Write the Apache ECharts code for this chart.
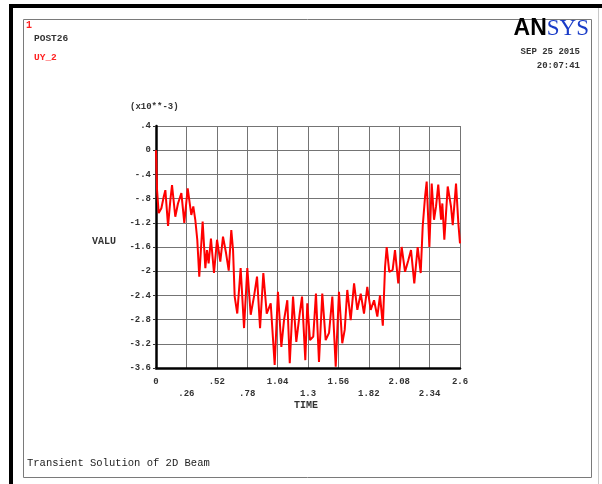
<!DOCTYPE html>
<html>
<head>
<meta charset="utf-8">
<script src="https://cdn.jsdelivr.net/npm/echarts@6/dist/echarts.min.js"></script>
<style>
  html, body { margin: 0; padding: 0; background: #ffffff; }
  #chart { width: 602px; height: 484px; }
</style>
</head>
<body>
<div id="chart"></div>
<script>
// POST26 time history of UY_2 (units of 1e-3)
const times = [
  0.000, 0.009, 0.023, 0.046, 0.066, 0.080, 0.103, 0.123, 0.137, 0.165,
  0.188, 0.217, 0.242, 0.271, 0.302, 0.319, 0.336, 0.353, 0.370, 0.399,
  0.422, 0.436, 0.450, 0.470, 0.496, 0.522, 0.550, 0.573, 0.599, 0.622,
  0.644, 0.659, 0.673, 0.695, 0.724, 0.753, 0.781, 0.810, 0.838, 0.864,
  0.890, 0.918, 0.947, 0.981, 1.015, 1.043, 1.072, 1.095, 1.123, 1.144,
  1.172, 1.200, 1.229, 1.249, 1.277, 1.294, 1.317, 1.345, 1.368, 1.394,
  1.422, 1.451, 1.480, 1.508, 1.537, 1.565, 1.593, 1.614, 1.636, 1.665,
  1.694, 1.722, 1.751, 1.779, 1.807, 1.836, 1.865, 1.893, 1.916, 1.940,
  1.959, 1.973, 1.995, 2.024, 2.044, 2.072, 2.101, 2.130, 2.158, 2.181,
  2.209, 2.238, 2.264, 2.281, 2.301, 2.315, 2.338, 2.358, 2.378, 2.395,
  2.414, 2.438, 2.449, 2.466, 2.495, 2.523, 2.538, 2.566, 2.586, 2.600
];
const uy2 = [
  0.00, -0.66, -1.04, -0.96, -0.77, -0.66, -1.25, -0.82, -0.575, -1.10,
  -0.88, -0.71, -1.20, -0.63, -1.07, -0.93, -1.15, -1.48, -2.09, -1.18,
  -1.95, -1.65, -1.87, -1.46, -2.03, -1.48, -1.84, -1.43, -1.70, -1.99,
  -1.32, -1.65, -2.42, -2.70, -1.95, -2.94, -1.95, -2.72, -2.42, -2.09,
  -2.94, -2.03, -2.70, -2.53, -3.55, -2.34, -3.25, -2.81, -2.48, -3.52,
  -2.42, -3.17, -2.70, -2.42, -3.47, -2.53, -3.14, -3.08, -2.37, -3.50,
  -2.37, -3.14, -3.02, -2.42, -3.58, -2.34, -3.19, -2.97, -2.31, -2.81,
  -2.20, -2.64, -2.37, -2.70, -2.26, -2.64, -2.48, -2.75, -2.40, -2.90,
  -1.93, -1.60, -2.01, -1.98, -1.65, -2.20, -1.60, -2.01, -1.82, -1.65,
  -2.20, -1.60, -2.03, -1.26, -0.77, -0.52, -1.60, -0.55, -1.15, -0.93,
  -0.57, -1.15, -0.88, -1.48, -0.60, -0.93, -1.24, -0.55, -1.21, -1.54
];
const xTickLabels = ['0', '.26', '.52', '.78', '1.04', '1.3', '1.56', '1.82', '2.08', '2.34', '2.6'];
const yTickLabels = ['.4', '0', '-.4', '-.8', '-1.2', '-1.6', '-2', '-2.4', '-2.8', '-3.2', '-3.6'];

const X_STEP = 0.26, Y_STEP = 0.4, Y_TOP = 0.4;
const mono = '"Liberation Mono", "Courier New", monospace';

const points = times.map((t, i) => [t, uy2[i]]);

const chart = echarts.init(document.getElementById('chart'), null, { renderer: 'canvas' });

const textStyle = (txt, extra) => Object.assign({
  text: txt, font: 'bold 9px ' + mono, fill: '#333333'
}, extra || {});

chart.setOption({
  backgroundColor: '#ffffff',
  animation: false,
  grid: { left: 156, right: 142, top: 126, bottom: 116, containLabel: false },
  xAxis: {
    type: 'value', min: 0, max: 2.6, interval: X_STEP,
    axisLine: { show: true, onZero: false, lineStyle: { color: '#000000', width: 2.5 } },
    axisTick: { show: false },
    splitLine: { show: true, lineStyle: { color: '#747474', width: 1 } },
    axisLabel: {
      margin: 8, color: '#333333', fontFamily: mono, fontWeight: 'bold', fontSize: 9, lineHeight: 12,
      formatter: v => {
        const k = Math.round(v / X_STEP);
        const s = xTickLabels[k] || '';
        return k % 2 ? '\n' + s : s;
      }
    }
  },
  yAxis: {
    type: 'value', min: -3.6, max: 0.4, interval: Y_STEP,
    axisLine: { show: true, onZero: false, lineStyle: { color: '#000000', width: 2.5 } },
    axisTick: { show: true, length: 3, lineStyle: { color: '#333333', width: 1 } },
    splitLine: { show: true, lineStyle: { color: '#747474', width: 1 } },
    axisLabel: {
      margin: 5, color: '#333333', fontFamily: mono, fontWeight: 'bold', fontSize: 9,
      formatter: v => yTickLabels[Math.round((Y_TOP - v) / Y_STEP)] || ''
    }
  },
  series: [{
    type: 'line', data: points, showSymbol: false, smooth: false,
    lineStyle: { color: '#ff0000', width: 2 }, z: 5
  }],
  graphic: [
    // outer window frame
    { type: 'rect', shape: { x: 10, y: 4, width: 592, height: 4 }, style: { fill: '#000000' }, silent: true },
    { type: 'rect', shape: { x: 9, y: 4, width: 4, height: 480 }, style: { fill: '#000000' }, silent: true },
    { type: 'line', shape: { x1: 598.5, y1: 8, x2: 598.5, y2: 484 }, style: { stroke: '#c8c8c8', lineWidth: 1 }, silent: true },
    { type: 'rect', shape: { x: 23.5, y: 19.5, width: 568, height: 458 }, style: { fill: null, stroke: '#7a7a7a', lineWidth: 1 }, silent: true },
    // header texts
    { type: 'text', left: 26, top: 20, style: textStyle('1', { fill: '#ff2020', font: 'bold 10px ' + mono }) },
    { type: 'text', left: 34, top: 34, style: textStyle('POST26', { font: 'bold 9.5px ' + mono }) },
    { type: 'text', left: 34, top: 53, style: textStyle('UY_2', { fill: '#ff2020', font: 'bold 9.5px ' + mono }) },
    {
      type: 'text', right: 13, top: 17,
      style: {
        text: '{a|AN}{b|SYS}',
        rich: {
          a: { font: 'bold 23px "Liberation Sans", Arial, sans-serif', fill: '#000000' },
          b: { font: '23px "Liberation Serif", "Times New Roman", serif', fill: '#1a3cc8' }
        }
      }
    },
    { type: 'text', right: 22, top: 47, style: textStyle('SEP 25 2015', { align: 'right' }) },
    { type: 'text', right: 22, top: 61, style: textStyle('20:07:41', { align: 'right' }) },
    // axis titles
    { type: 'text', left: 130, top: 102, style: textStyle('(x10**-3)') },
    { type: 'text', left: 92, top: 236, style: textStyle('VALU', { font: 'bold 10px ' + mono }) },
    { type: 'text', left: 294, top: 400, style: textStyle('TIME', { font: 'bold 10px ' + mono }) },
    // footer
    { type: 'text', left: 27, top: 458, style: textStyle('Transient Solution of 2D Beam', { font: '10.5px ' + mono, fill: '#222222' }) }
  ]
});
</script>
</body>
</html>
